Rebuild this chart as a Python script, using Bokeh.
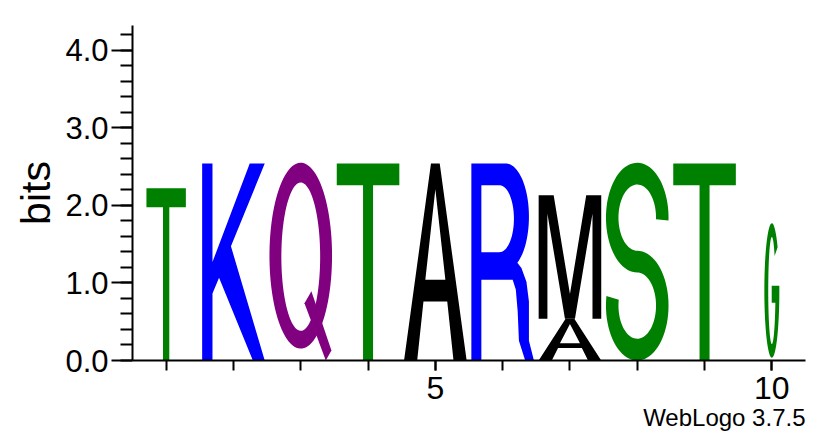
import numpy as np
from bokeh.plotting import figure
from bokeh.models import ColumnDataSource, FixedTicker, PrintfTickFormatter, Range1d, Title
from bokeh.embed import file_html
from bokeh.resources import INLINE

# logo columns: letters listed bottom -> top, heights in bits
positions = [1, 2, 3, 4, 5, 6, 7, 8, 9, 10]
letters = [["T"], ["K"], ["Q"], ["T"], ["A"], ["R"], ["A", "M"], ["S"], ["T"], ["G"]]
bits = [[2.22], [2.54], [2.55], [2.54], [2.54], [2.54], [0.54, 1.59], [2.55], [2.54], [1.77]]
# share of sequences without a gap -> stack width
occupancy = [0.63, 1.0, 1.0, 1.0, 1.0, 1.0, 1.0, 1.0, 1.0, 0.24]

y_ticks = [0, 1, 2, 3, 4]
x_ticks = [5, 10]

# weblogo "chemistry" colours
colors = {"T": "#008000", "S": "#008000", "G": "#008000",
          "K": "#0000ff", "R": "#0000ff",
          "Q": "#800080",
          "A": "#000000", "M": "#000000"}

FONT = "Liberation Sans"


def arc(cx, cy, rx, ry, a0, a1, n=60):
    t = np.radians(np.linspace(a0, a1, n))
    return list(zip(cx + rx * np.cos(t), cy + ry * np.sin(t)))


def orient(ring, cw):
    x, y = np.array(ring, dtype=float).T
    area = np.sum(x * np.roll(y, -1) - np.roll(x, -1) * y) / 2
    if (area < 0) != cw:
        ring = ring[::-1]
    return ring


def glyph(ch):
    # letter outlines in a unit box; list of pieces, each [outer, holes...]
    if ch == "T":
        return [[[(0, 1), (1, 1), (1, .89), (.58, .89), (.58, 0), (.42, 0), (.42, .89), (0, .89)]]]
    if ch == "K":
        return [[[(0, 0), (0, 1), (.165, 1), (.165, .5), (.76, 1), (1, 1), (.46, .58), (1, 0),
                  (.81, 0), (.27, .42), (.165, .34), (.165, 0)]]]
    if ch == "Q":
        return [[arc(.5, .53, .5, .47, 0, 360, 100), arc(.5, .525, .31, .375, 0, 360, 100)],
                [[(.56, .29), (.67, .35), (.99, .05), (.9, 0)]]]
    if ch == "A":
        return [[[(0, 0), (.43, 1), (.57, 1), (1, 0), (.79, 0), (.69, .3), (.31, .3), (.21, 0)],
                 [(.34, .41), (.5, .87), (.66, .41)]]]
    if ch == "R":
        outer = ([(0, 0), (0, 1), (.55, 1)] + arc(.55, .73, .37, .27, 90, -60)
                 + [(.8, .47), (.88, .4), (.92, .3), (.92, .1), (1, 0), (.86, 0), (.76, .1),
                    (.74, .25), (.71, .36), (.66, .41), (.16, .41), (.16, 0)])
        hole = [(.16, .89), (.45, .89)] + arc(.45, .72, .23, .17, 90, -90) + [(.16, .55)]
        return [[outer, hole]]
    if ch == "M":
        return [[[(0, 0), (0, 1), (.24, 1), (.5, .2), (.76, 1), (1, 1), (1, 0), (.86, 0),
                  (.86, .85), (.58, 0), (.42, 0), (.14, .85), (.14, 0)]]]
    if ch == "S":
        ring = (arc(.5, .7225, .5, .2775, -3, 270) + arc(.5, .2775, .3, .1675, 90, -190)
                + arc(.5, .2775, .5, .2775, -190, 90) + arc(.5, .7225, .3, .1675, 270, -3))
        return [[ring]]
    if ch == "G":
        ring = (arc(.5, .51, .5, .49, 40, 364) + [(.49, .544), (.49, .42)]
                + arc(.5, .51, .24, .39, 346.7, 40))
        return [[ring]]
    return []


# every piece of every letter becomes one row, so overlapping pieces do not cancel
xs, ys, fills = [], [], []
for pos, stack, hs, occ in zip(positions, letters, bits, occupancy):
    w = 0.93 * occ
    base = 0.0
    for ch, h in zip(stack, hs):
        for piece in glyph(ch):
            rx, ry = [], []
            for k, ring in enumerate(piece):
                u, v = np.array(orient(ring, k == 0), dtype=float).T
                rx.append((pos - w / 2 + u * w).tolist())
                ry.append((base + v * h).tolist())
            xs.append([rx])
            ys.append([ry])
            fills.append(colors[ch])
        base += h

src = ColumnDataSource(dict(xs=xs, ys=ys, color=fills))

p = figure(width=830, height=443, x_range=Range1d(0.5, 10.5), y_range=Range1d(0, 4.32),
           output_backend="svg", toolbar_location=None,
           min_border_left=132, min_border_right=25, min_border_top=25, min_border_bottom=83)
p.multi_polygons(xs="xs", ys="ys", fill_color="color", line_color=None, source=src)

p.grid.visible = False
p.outline_line_color = None

yax = p.yaxis[0]
yax.ticker = FixedTicker(ticks=y_ticks, minor_ticks=[i / 5 for i in range(22)])
yax.formatter = PrintfTickFormatter(format="%.1f")
yax.axis_label = "bits"
yax.axis_label_text_font = FONT
yax.axis_label_text_font_style = "normal"
yax.axis_label_text_font_size = "41px"
yax.axis_label_text_color = "black"
yax.axis_label_standoff = 3
yax.major_label_text_font = FONT
yax.major_label_text_font_size = "31px"
yax.major_label_standoff = 3
yax.major_tick_out = 21
yax.minor_tick_out = 12
yax.major_tick_in = 0
yax.minor_tick_in = 0

xax = p.xaxis[0]
xax.ticker = FixedTicker(ticks=x_ticks, minor_ticks=positions)
xax.major_label_text_font = FONT
xax.major_label_text_font_size = "32px"
xax.major_label_standoff = 6
xax.major_tick_out = 10
xax.minor_tick_out = 10
xax.major_tick_in = 0
xax.minor_tick_in = 0

for ax in (xax, yax):
    ax.axis_line_width = 2
    ax.major_tick_line_width = 2
    ax.minor_tick_line_width = 2
    ax.axis_line_color = "black"
    ax.major_tick_line_color = "black"
    ax.minor_tick_line_color = "black"
    ax.major_label_text_color = "black"

credit = Title(text="WebLogo 3.7.5", align="right", text_font=FONT, text_font_size="24px",
               text_font_style="normal", text_color="black", standoff=0, offset=0)
p.add_layout(credit, "below")

open("out.html", "w").write(file_html(p, INLINE))
